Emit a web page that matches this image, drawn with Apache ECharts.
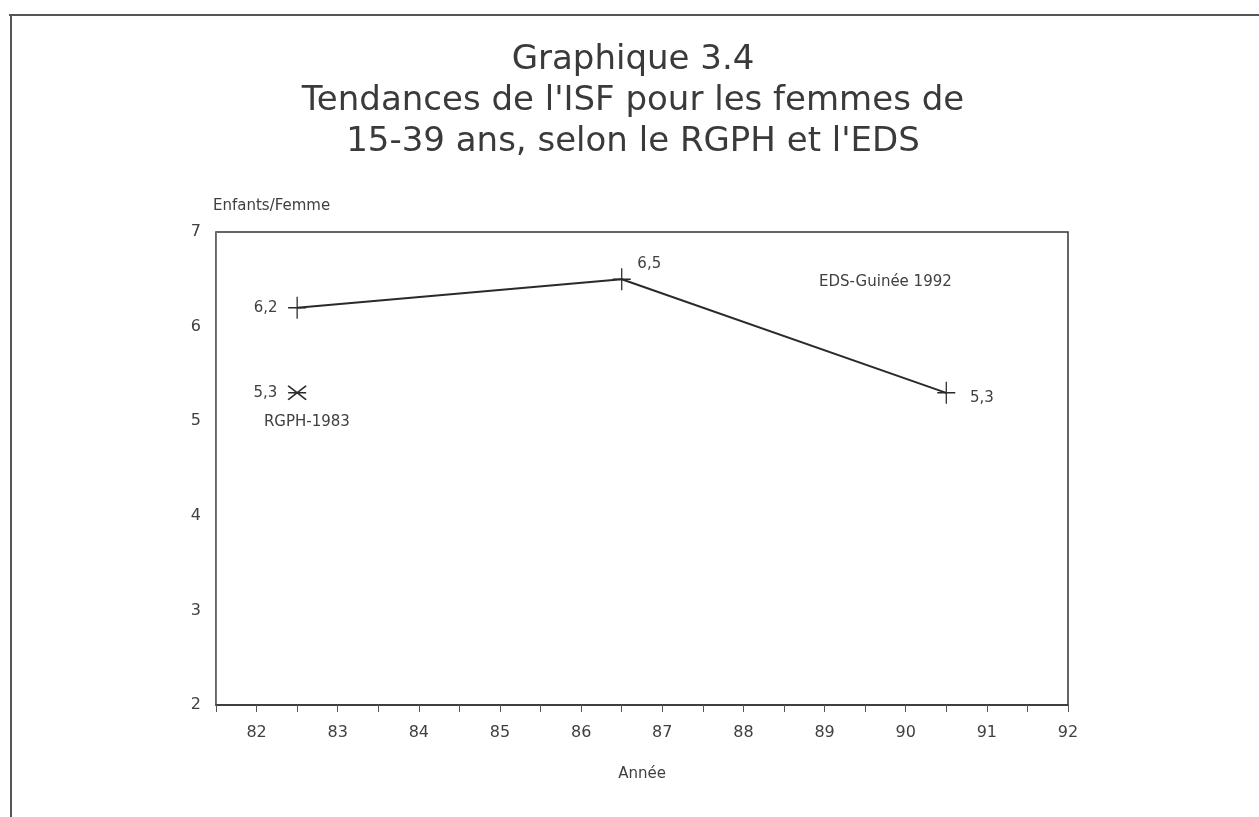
<!DOCTYPE html>
<html>
<head>
<meta charset="utf-8">
<script src="https://cdn.jsdelivr.net/npm/echarts@6/dist/echarts.min.js"></script>
<style>
  html, body { margin: 0; padding: 0; background: #fff; }
  #chart { width: 1259px; height: 817px; }
</style>
</head>
<body>
<div id="chart"></div>
<script>
// EDS-Guinée 1992 : ISF par période
const edsYears = [82.5, 86.5, 90.5];
const edsValues = [6.2, 6.5, 5.3];
const edsLabels = ['6,2', '6,5', '5,3'];
// RGPH-1983
const rgphYears = [82.5];
const rgphValues = [5.3];
const rgphLabels = ['5,3'];

const xMin = 81.5, xMax = 92, xStep = 0.5;
const yMin = 2, yMax = 7, yStep = 1;

const ink = '#2a2a2a';
const textCol = '#404040';
const font = 'DejaVu Sans';

const myChart = echarts.init(document.getElementById('chart'));

// positions des libellés autour des points
const edsLabelPos = [
    { position: 'left', distance: 10, offset: [0, 0] },
    { position: 'right', distance: 6, offset: [0, -15] },
    { position: 'right', distance: 14, offset: [0, 5] },
];

const titleLines = [
    'Graphique 3.4',
    'Tendances de l\'ISF pour les femmes de',
    '15-39 ans, selon le RGPH et l\'EDS',
];

const option = {
    backgroundColor: '#fff',
    animation: false,
    graphic: [
        // cadre de la page
        { type: 'line', shape: { x1: 9, y1: 15, x2: 1259, y2: 15 }, style: { stroke: '#555', lineWidth: 2 } },
        { type: 'line', shape: { x1: 11, y1: 15, x2: 11, y2: 817 }, style: { stroke: '#555', lineWidth: 2 } },
        // titre
        ...titleLines.map((t, i) => ({
            type: 'text',
            x: 633,
            y: 60 + i * 41,
            style: {
                text: t,
                textAlign: 'center',
                textVerticalAlign: 'middle',
                fontFamily: font,
                fontSize: 34,
                fill: '#3a3a3a',
            },
        })),
    ],
    grid: {
        left: 216,
        right: 191,
        top: 232,
        bottom: 112,
        show: true,
        borderColor: '#333',
        borderWidth: 1.5,
        backgroundColor: 'transparent',
    },
    xAxis: {
        type: 'value',
        min: xMin,
        max: xMax,
        interval: xStep,
        name: 'Année',
        nameLocation: 'middle',
        nameGap: 62,
        nameTextStyle: { fontFamily: font, fontSize: 15, color: textCol },
        axisLine: { show: true, lineStyle: { color: '#333', width: 1.5 } },
        axisTick: { show: true, inside: false, length: 7, lineStyle: { color: '#555' } },
        axisLabel: {
            margin: 20,
            fontFamily: font,
            fontSize: 16,
            color: textCol,
            formatter: (v) => (Number.isInteger(v) ? String(v) : ''),
        },
        splitLine: { show: false },
    },
    yAxis: {
        type: 'value',
        min: yMin,
        max: yMax,
        interval: yStep,
        name: 'Enfants/Femme',
        nameLocation: 'end',
        nameGap: 18,
        nameTextStyle: { fontFamily: font, fontSize: 15, color: textCol, align: 'left', padding: [0, 0, 0, -3] },
        axisLine: { show: true, lineStyle: { color: '#777', width: 1 } },
        axisTick: { show: false },
        axisLabel: { margin: 15, fontFamily: font, fontSize: 16, color: textCol },
        splitLine: { show: false },
    },
    series: [
        {
            name: 'EDS-Guinée 1992',
            type: 'line',
            data: edsYears.map((x, i) => ({
                value: [x, edsValues[i]],
                label: Object.assign({ formatter: edsLabels[i] }, edsLabelPos[i]),
            })),
            symbol: 'path://M5,0L5,10M0,5L10,5',
            symbolSize: [18, 22],
            showSymbol: true,
            itemStyle: { color: ink, borderColor: ink, borderWidth: 1.4, opacity: 1 },
            lineStyle: { color: ink, width: 2 },
            label: { show: true, fontFamily: font, fontSize: 15, color: textCol },
            markPoint: {
                symbol: 'circle',
                symbolSize: 0,
                label: { show: true, position: 'inside', fontFamily: font, fontSize: 15, color: textCol, formatter: 'EDS-Guinée 1992' },
                data: [{ coord: [89.75, 6.47] }],
            },
            z: 3,
        },
        {
            name: 'RGPH-1983',
            type: 'scatter',
            data: rgphYears.map((x, i) => ({ value: [x, rgphValues[i]] })),
            symbol: 'path://M0,0L10,10M10,0L0,10M0,5L10,5',
            symbolSize: [18, 14],
            itemStyle: { color: 'none', borderColor: ink, borderWidth: 1.6, opacity: 1 },
            label: {
                show: true,
                position: 'left',
                distance: 8,
                fontFamily: font,
                fontSize: 15,
                color: textCol,
                formatter: (p) => rgphLabels[p.dataIndex],
            },
            markPoint: {
                symbol: 'circle',
                symbolSize: 0,
                label: { show: true, position: 'inside', fontFamily: font, fontSize: 15, color: textCol, formatter: 'RGPH-1983' },
                data: [{ coord: [82.62, 4.99] }],
            },
        },
    ],
};

myChart.setOption(option);
window.addEventListener('resize', () => {
    myChart.resize();
});
</script>
</body>
</html>
